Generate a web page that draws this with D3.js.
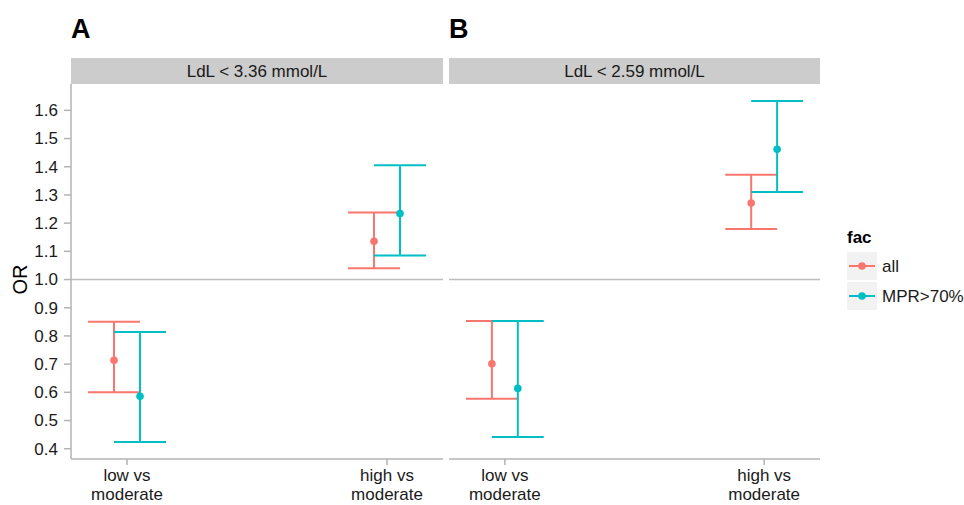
<!DOCTYPE html>
<head>
    <meta charset="utf-8">
    <style>
        body { margin: 0; background: #fff; }
        text { font-family: "Liberation Sans", Arial, sans-serif; }
        .axis-line { stroke: #b3b3b3; stroke-width: 1.5px; }
        .ref-line { stroke: #bdbdbd; stroke-width: 1.5px; }
        .tick-label { fill: #1a1a1a; font-size: 17px; }
        .strip { fill: #cccccc; }
        .strip-text { fill: #1a1a1a; font-size: 17px; }
        .tag { fill: #000; font-size: 27px; font-weight: bold; }
    </style>
</head>

<body>
    <script src="https://d3js.org/d3.v7.min.js"></script>

    <script>
        // facets, categories, groups
        var facetLabels = ["LdL < 3.36 mmol/L", "LdL < 2.59 mmol/L"];
        var tagLabels = ["A", "B"];
        var categories = ["low vs moderate", "high vs moderate"];
        var categoryLines = [["low vs", "moderate"], ["high vs", "moderate"]];
        var groups = ["all", "MPR>70%"];
        var yTicks = [0.4, 0.5, 0.6, 0.7, 0.8, 0.9, 1.0, 1.1, 1.2, 1.3, 1.4, 1.5, 1.6];

        // panel A values (low vs moderate, high vs moderate)
        var aAllEst = [0.714, 1.136], aAllLo = [0.600, 1.040], aAllHi = [0.850, 1.238];
        var aMprEst = [0.586, 1.234], aMprLo = [0.424, 1.085], aMprHi = [0.814, 1.405];
        // panel B values
        var bAllEst = [0.701, 1.271], bAllLo = [0.577, 1.179], bAllHi = [0.853, 1.372];
        var bMprEst = [0.614, 1.462], bMprLo = [0.442, 1.310], bMprHi = [0.853, 1.633];

        var colors = d3.scaleOrdinal().domain(groups).range(["#F8766D", "#00BFC4"]);

        var width = 964, height = 505;
        var panelTop = 84, panelBottom = 459;
        var panels = [{left: 71, right: 443}, {left: 449, right: 820}];

        var svg = d3.select("body").append("svg")
            .attr("width", width)
            .attr("height", height);

        // build rows from the arrays
        var facetData = [
            [[aAllEst, aAllLo, aAllHi], [aMprEst, aMprLo, aMprHi]],
            [[bAllEst, bAllLo, bAllHi], [bMprEst, bMprLo, bMprHi]]
        ];
        var rows = [];
        facetData.forEach(function(f, fi) {
            f.forEach(function(g, gi) {
                categories.forEach(function(c, ci) {
                    rows.push({facet: fi, group: groups[gi], cat: c, est: g[0][ci], lo: g[1][ci], hi: g[2][ci]});
                });
            });
        });

        // y scale with 5% expansion like ggplot
        var yMin = d3.min(rows, function(d) { return d.lo; });
        var yMax = d3.max(rows, function(d) { return d.hi; });
        var pad = (yMax - yMin) * 0.05;
        var y = d3.scaleLinear().domain([yMin - pad, yMax + pad]).range([panelBottom, panelTop]);

        panels.forEach(function(p, pi) {
            var x = d3.scalePoint().domain(categories).range([p.left, p.right]).padding(0.2154);
            var step = x.step();
            var dodge = d3.scalePoint().domain(groups).range([-0.05 * step, 0.05 * step]);
            var capHalf = 0.1 * step;

            var g = svg.append("g");

            // strip
            g.append("rect")
                .attr("class", "strip")
                .attr("x", p.left).attr("y", 58)
                .attr("width", p.right - p.left).attr("height", panelTop - 58);
            g.append("text")
                .attr("class", "strip-text")
                .attr("x", (p.left + p.right) / 2).attr("y", 71)
                .attr("dy", "0.35em")
                .attr("text-anchor", "middle")
                .text(facetLabels[pi]);

            // tag
            svg.append("text")
                .attr("class", "tag")
                .attr("x", p.left).attr("y", 38)
                .text(tagLabels[pi]);

            // axis lines
            g.append("line")
                .attr("class", "axis-line")
                .attr("x1", p.left).attr("x2", p.right)
                .attr("y1", panelBottom).attr("y2", panelBottom);
            if (pi === 0) {
                g.append("line")
                    .attr("class", "axis-line")
                    .attr("x1", p.left).attr("x2", p.left)
                    .attr("y1", panelTop).attr("y2", panelBottom);
                yTicks.forEach(function(t) {
                    g.append("line")
                        .attr("class", "axis-line")
                        .attr("x1", p.left - 7).attr("x2", p.left)
                        .attr("y1", y(t)).attr("y2", y(t));
                    g.append("text")
                        .attr("class", "tick-label")
                        .attr("x", p.left - 13).attr("y", y(t))
                        .attr("dy", "0.35em")
                        .attr("text-anchor", "end")
                        .text(t.toFixed(1));
                });
            }

            // reference line at OR = 1
            g.append("line")
                .attr("class", "ref-line")
                .attr("x1", p.left).attr("x2", p.right)
                .attr("y1", y(1)).attr("y2", y(1));

            // x ticks and labels (two lines, stacked)
            categories.forEach(function(c, ci) {
                g.append("line")
                    .attr("class", "axis-line")
                    .attr("x1", x(c)).attr("x2", x(c))
                    .attr("y1", panelBottom).attr("y2", panelBottom + 6);
                categoryLines[ci].forEach(function(line, li) {
                    g.append("text")
                        .attr("class", "tick-label")
                        .attr("text-anchor", "middle")
                        .attr("x", x(c)).attr("y", 481 + li * 19)
                        .text(line);
                });
            });

            // error bars and points
            var data = rows.filter(function(d) { return d.facet === pi; });
            data.forEach(function(d) {
                var cx = x(d.cat) + dodge(d.group);
                var col = colors(d.group);
                g.append("line")
                    .attr("x1", cx).attr("x2", cx)
                    .attr("y1", y(d.lo)).attr("y2", y(d.hi))
                    .attr("stroke", col).attr("stroke-width", 2);
                [d.lo, d.hi].forEach(function(v) {
                    g.append("line")
                        .attr("x1", cx - capHalf).attr("x2", cx + capHalf)
                        .attr("y1", y(v)).attr("y2", y(v))
                        .attr("stroke", col).attr("stroke-width", 2);
                });
                g.append("circle")
                    .attr("cx", cx).attr("cy", y(d.est))
                    .attr("r", 3.8)
                    .attr("fill", col);
            });
        });

        // y axis title
        svg.append("text")
            .attr("transform", "translate(27," + y(1) + ") rotate(-90)")
            .attr("text-anchor", "middle")
            .style("font-size", "20px")
            .attr("fill", "#000")
            .text("OR");

        // legend
        var legend = svg.append("g").attr("transform", "translate(847,0)");
        legend.append("text")
            .attr("x", 0).attr("y", 243)
            .style("font-size", "17px").style("font-weight", "bold")
            .text("fac");
        groups.forEach(function(gname, i) {
            var top = 252 + i * 30;
            legend.append("rect")
                .attr("x", 0).attr("y", top)
                .attr("width", 30).attr("height", 28)
                .attr("fill", "#f2f2f2");
            legend.append("line")
                .attr("x1", 2).attr("x2", 28)
                .attr("y1", top + 14).attr("y2", top + 14)
                .attr("stroke", colors(gname)).attr("stroke-width", 2);
            legend.append("circle")
                .attr("cx", 15).attr("cy", top + 14).attr("r", 3.8)
                .attr("fill", colors(gname));
            legend.append("text")
                .attr("class", "tick-label")
                .attr("x", 35).attr("y", top + 14)
                .attr("dy", "0.35em")
                .text(gname);
        });
    </script>
</body>
